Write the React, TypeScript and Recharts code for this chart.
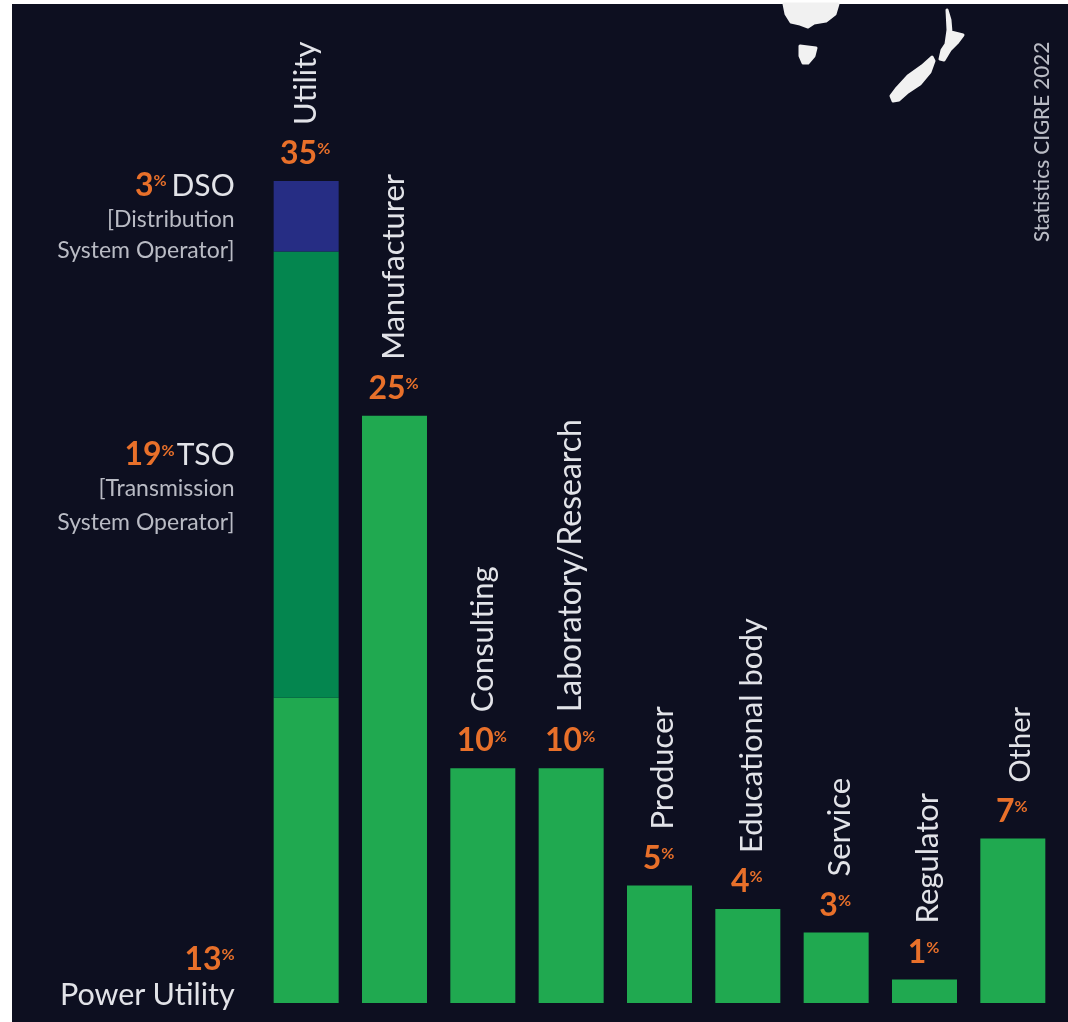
import { ComposedChart, Bar, Line, XAxis, YAxis, LabelList } from 'recharts';

const categories = ['Utility', 'Manufacturer', 'Consulting', 'Laboratory/Research', 'Producer', 'Educational body', 'Service', 'Regulator', 'Other'];
const baseValues = [13, 25, 10, 10, 5, 4, 3, 1, 7];
const tsoValues = [19, 0, 0, 0, 0, 0, 0, 0, 0];
const dsoValues = [3, 0, 0, 0, 0, 0, 0, 0, 0];

const chartData = categories.map((name, i) => ({
  name,
  base: baseValues[i],
  tso: tsoValues[i],
  dso: dsoValues[i],
  total: baseValues[i] + tsoValues[i] + dsoValues[i],
}));

const FONT = 'Lato, sans-serif';
const BG = '#0d0f20';
const ORANGE = '#e8702a';
const LIGHT = '#e2e3e8';
const GREY = '#b9bbc4';

const Pct = ({ x, y, value, anchor = 'middle', size = 32 }: any) => (
  <text x={x} y={y} textAnchor={anchor} fontFamily={FONT} fill={ORANGE}>
    <tspan fontSize={size} fontWeight={700}>{value}</tspan>
    <tspan fontSize={size * 0.5} fontWeight={700} dy={-size * 0.3}>%</tspan>
  </text>
);

// percent on top of each column and the rotated category name above it
const TopLabel = ({ x, y, value, index }: any) => {
  const nudge = index >= 4 ? (index === 8 ? 7 : 4) : 0;
  const bx = x + nudge + 10;
  const by = y - 56;
  return (
    <g>
      <Pct x={x - 1} y={y - 17} value={value} />
      <text
        x={bx}
        y={by}
        transform={`rotate(-90 ${bx} ${by})`}
        fontFamily={FONT}
        fontSize={index === 8 ? 29 : index === 3 ? 32 : 31}
        fill={LIGHT}
      >
        {categories[index]}
      </text>
    </g>
  );
};

// side notes to the left of the Utility column, hung off the segment rectangles
const SideLabel = ({ x, y, height, index, kind }: any) => {
  if (index !== 0) return null;
  const right = x - 39;
  const sub = { fontFamily: FONT, fontSize: 23, fill: GREY, textAnchor: 'end' as const };
  if (kind === 'dso') {
    return (
      <g>
        <text x={right} y={y + 15} textAnchor="end" fontFamily={FONT} fontSize={30} fill={LIGHT}>DSO</text>
        <Pct x={right - 68} y={y + 15} value={3} anchor="end" />
        <text {...sub} y={y + 46} x={right}>[Distribution</text>
        <text {...sub} y={y + 77} x={right}>System Operator]</text>
      </g>
    );
  }
  if (kind === 'tso') {
    return (
      <g>
        <text x={right} y={y + 214} textAnchor="end" fontFamily={FONT} fontSize={30} fill={LIGHT}>TSO</text>
        <Pct x={right - 60} y={y + 214} value={19} anchor="end" />
        <text {...sub} y={y + 245} x={right}>[Transmission</text>
        <text {...sub} y={y + 279} x={right}>System Operator]</text>
      </g>
    );
  }
  return (
    <g>
      <Pct x={right} y={y + height - 33} value={13} anchor="end" />
      <text x={right} y={y + height + 2} textAnchor="end" fontFamily={FONT} fontSize={30.5} fill={LIGHT}>Power Utility</text>
    </g>
  );
};

const MapShapes = () => (
  <svg width={1068} height={1022} style={{ position: 'absolute', left: 0, top: 0, pointerEvents: 'none' }}>
    <g fill="#f1f1f1" stroke="#f1f1f1" strokeWidth={3} strokeLinejoin="round">
      <path d="M784 4 L838 4 L835 14 L826 21 L814 23 L808 27 L800 24 L791 22 L786 14 Z" />
      <path d="M800 46 L816 48 L814 56 L808 63 L803 63 L800 56 Z" />
      <path d="M947 10 L950 20 L951 32 L963 35 L957 43 L950 50 L944 60 L940 59 L942 50 L946 44 L948 30 Z" />
      <path d="M932 57 L934 61 L930 72 L920 84 L908 92 L899 100 L893 101 L891 96 L897 88 L908 76 L922 66 Z" />
    </g>
  </svg>
);

export default function App() {
  return (
    <div style={{ position: 'absolute', left: 0, top: 0, width: 1068, height: 1022, background: '#fff', overflow: 'hidden' }}>
      <div style={{ position: 'absolute', left: 12, top: 4, right: 0, bottom: 0, background: BG }} />
      <div style={{ position: 'absolute', left: 0, top: 0, width: 1068, height: 1022, filter: 'blur(0.6px)' }}>
        <ComposedChart
          width={1068}
          height={1022}
          data={chartData}
          margin={{ top: 181, right: 11, bottom: 19, left: 262 }}
          barCategoryGap="13.2%"
        >
          <XAxis dataKey="name" hide />
          <YAxis hide domain={[0, 35]} />
          <Bar dataKey="base" stackId="a" fill="#20a950" isAnimationActive={false}>
            <LabelList dataKey="base" content={(p: any) => <SideLabel {...p} kind="base" />} />
          </Bar>
          <Bar dataKey="tso" stackId="a" fill="#04864f" isAnimationActive={false}>
            <LabelList dataKey="tso" content={(p: any) => <SideLabel {...p} kind="tso" />} />
          </Bar>
          <Bar dataKey="dso" stackId="a" fill="#262d84" isAnimationActive={false}>
            <LabelList dataKey="dso" content={(p: any) => <SideLabel {...p} kind="dso" />} />
          </Bar>
          <Line dataKey="total" stroke="none" dot={false} legendType="none" isAnimationActive={false}>
            <LabelList dataKey="total" content={(p: any) => <TopLabel {...p} />} />
          </Line>
        </ComposedChart>
        <MapShapes />
        <svg width={1068} height={1022} style={{ position: 'absolute', left: 0, top: 0, pointerEvents: 'none' }}>
          <text x={1049} y={242} transform="rotate(-90 1049 242)" fontFamily={FONT} fontSize={20.7} fontWeight={500} fill={GREY}>
            Statistics CIGRE 2022
          </text>
        </svg>
      </div>
    </div>
  );
}
